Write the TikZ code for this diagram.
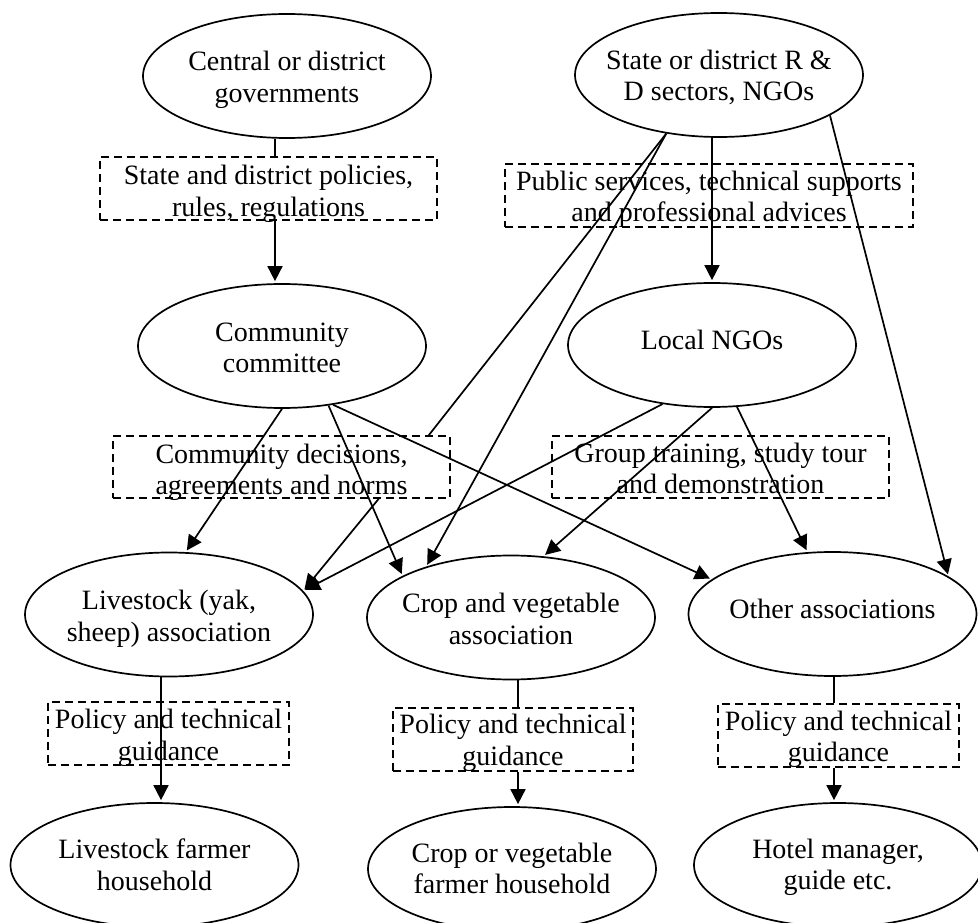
\documentclass[tikz,border=0pt]{standalone}
\usepackage{fontspec}
\setmainfont{Liberation Serif}
\usetikzlibrary{shapes.geometric,arrows.meta}
\newcommand{\ntext}[2]{\makebox[0pt]{\raisebox{#1}[0pt][0pt]{\begin{tabular}[t]{@{}c@{}}#2\end{tabular}}}}
\tikzset{
  ell/.style={draw, ellipse, line width=1.7pt, minimum width=288pt, minimum height=124pt, inner sep=0pt, font=\fontsize{28}{31.5}\selectfont},
  dbox/.style={draw, rectangle, line width=1.5pt, dash pattern=on 8pt off 5pt, inner sep=0pt, font=\fontsize{28}{31.5}\selectfont},
  conn/.style={line width=1.7pt},
  arr/.style={conn, -{Triangle[length=15pt,width=15pt]}, shorten >=2pt},
}
\begin{document}
\begin{tikzpicture}[x=1pt,y=-1pt]
\useasboundingbox (0,0) rectangle (978,923);
% ellipses
\node[ell] (cg) at (287,76) {\ntext{5pt}{Central or district\\governments}};
\node[ell] (sr) at (719,75) {\ntext{5.5pt}{State or district R \&\\D sectors, NGOs}};
\node[ell] (cc) at (282,346) {\ntext{5pt}{Community\\committee}};
\node[ell] (ln) at (712,345) {\ntext{-4pt}{Local NGOs}};
\node[ell] (la) at (169,614.5) {\ntext{5pt}{Livestock (yak,\\sheep) association}};
\node[ell] (ca) at (511,617.5) {\ntext{5pt}{Crop and vegetable\\association}};
\node[ell] (oa) at (832.5,614) {\ntext{-4.5pt}{Other associations}};
\node[ell] (lh) at (154.5,865) {\ntext{6.5pt}{Livestock farmer\\household}};
\node[ell] (ch) at (512,869) {\ntext{7pt}{Crop or vegetable\\farmer household}};
\node[ell] (ho) at (838,865) {\ntext{7pt}{Hotel manager,\\guide etc.}};
% dashed boxes
\node[dbox, minimum width=337pt, minimum height=63pt] (bA) at (268.5,188.5) {\ntext{3.5pt}{State and district policies,\\rules, regulations}};
\node[dbox, minimum width=408pt, minimum height=63pt] (bB) at (709,195.5) {\ntext{5.5pt}{Public services, technical supports\\and professional advices}};
\node[dbox, minimum width=337pt, minimum height=62pt] (bC) at (281.5,467) {\ntext{4pt}{Community decisions,\\agreements and norms}};
\node[dbox, minimum width=337pt, minimum height=62pt] (bD) at (720.5,467) {\ntext{4.7pt}{Group training, study tour\\and demonstration}};
\node[dbox, minimum width=241pt, minimum height=63pt] (bE) at (168.5,733.5) {\ntext{5pt}{Policy and technical\\guidance}};
\node[dbox, minimum width=240pt, minimum height=63pt] (bF) at (513,739.5) {\ntext{6pt}{Policy and technical\\guidance}};
\node[dbox, minimum width=241pt, minimum height=63pt] (bG) at (838.5,735.5) {\ntext{5.5pt}{Policy and technical\\guidance}};
% connectors
\draw[conn] ([xshift=-12pt]cg.south) -- ([xshift=-12pt]cg.south |- bA.north);
\draw[arr] ([xshift=-12pt]cg.south |- bA.south) -- ([xshift=-12pt]cg.south |- cc.north);
\draw[arr] (ln.north |- sr.south) -- (ln.north);
\draw[conn] (sr.228) -- ([xshift=-22pt]bC.north east);
\draw[arr] ([xshift=-72pt]bC.south east) -- (la.10);
\draw[arr] (sr.228) -- (ca.149);
\draw[arr] (cc.south) -- (la.75);
\draw[arr] (cc.-52) -- (ca.159);
\draw[arr] (cc.-49) -- (oa.164);
\draw[arr] (ln.230) -- (la.10);
\draw[arr] (ln.south) -- (ca.62);
\draw[arr] (ln.-68) -- (oa.112);
\draw[arr] (sr.-20) -- (oa.18);
\draw[arr] ([xshift=-8pt]la.south) -- ([xshift=-8pt]la.south |- lh.north);
\draw[conn] ([xshift=7pt]ca.south) -- ([xshift=7pt]ca.south |- bF.north);
\draw[arr] ([xshift=7pt]ca.south |- bF.south) -- ([xshift=7pt]ca.south |- ch.north);
\draw[conn] ([xshift=1.5pt]oa.south) -- ([xshift=1.5pt]oa.south |- bG.north);
\draw[arr] ([xshift=1.5pt]oa.south |- bG.south) -- ([xshift=1.5pt]oa.south |- ho.north);
\end{tikzpicture}
\end{document}
